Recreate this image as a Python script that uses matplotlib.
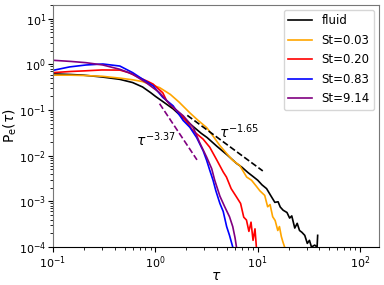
import matplotlib
matplotlib.use("Agg")
import matplotlib.pyplot as plt
import numpy as np

# ---- data ----
tau_fluid = [0.1, 0.15, 0.2, 0.3, 0.45, 0.6, 0.75, 0.9, 1.0, 1.2, 1.5, 1.85, 2.3, 2.8, 3.2, 4.0, 5.0, 6.2, 7.0, 8.0, 9.0, 10.0,
             11.0, 12.2, 13.5, 14.7, 15.8, 16.6, 17.7, 19.3, 20.5, 21.5, 23.0, 24.3, 25.6, 27.0, 28.8, 30.5, 32.0, 33.5, 36.0, 38.0, 38.5]
p_fluid = [0.62, 0.60, 0.58, 0.53, 0.47, 0.40, 0.32, 0.24, 0.20, 0.15, 0.105, 0.068, 0.045, 0.031, 0.025, 0.016, 0.0105, 0.0068, 0.0056, 0.0043, 0.0035, 0.0029,
           0.0023, 0.0019, 0.0013, 0.00095, 0.00098, 0.00075, 0.00064, 0.00057, 0.00043, 0.00048, 0.00026, 0.00033, 0.00023, 0.00021, 0.00018, 0.00012, 0.00014, 0.0001, 0.00011, 0.0001, 0.00018]

tau_st003 = [0.1, 0.15, 0.2, 0.3, 0.45, 0.6, 0.75, 0.9, 1.1, 1.4, 1.7, 2.17, 2.6, 3.18, 3.7, 4.27, 5.0, 5.7, 6.67, 7.8, 8.7, 9.6, 10.5, 11.7, 12.5, 13.2, 14.0, 14.8, 15.7, 16.3, 17.0, 17.6, 18.3]
p_st003 = [0.58, 0.58, 0.57, 0.55, 0.50, 0.46, 0.42, 0.36, 0.31, 0.22, 0.15, 0.087, 0.060, 0.041, 0.026, 0.0166, 0.011, 0.0079, 0.0061, 0.0034, 0.0029, 0.0022, 0.0017, 0.00135, 0.00076, 0.00085, 0.00046, 0.00038, 0.00023, 0.00028, 0.00017, 0.00013, 0.0001]

tau_st020 = [0.1, 0.15, 0.2, 0.3, 0.45, 0.55, 0.7, 0.85, 0.95, 1.18, 1.29, 1.55, 1.87, 2.34, 2.93, 3.4, 4.0, 4.6, 4.95, 5.5, 6.2, 6.8, 7.3, 7.76, 8.2, 8.6, 9.0, 9.4, 9.7]
p_st020 = [0.66, 0.70, 0.72, 0.755, 0.75, 0.66, 0.51, 0.42, 0.37, 0.24, 0.16, 0.105, 0.069, 0.035, 0.023, 0.0153, 0.0079, 0.0044, 0.0034, 0.0019, 0.00125, 0.0009, 0.00045, 0.00039, 0.00022, 0.00035, 0.00014, 0.00025, 0.0001]

tau_st083 = [0.1, 0.145, 0.21, 0.307, 0.45, 0.6, 0.755, 0.95, 1.18, 1.49, 1.87, 2.17, 2.53, 2.93, 3.17, 3.4, 3.66, 3.9, 4.27, 4.6, 4.97, 5.3, 5.7]
p_st083 = [0.74, 0.88, 0.97, 1.02, 0.92, 0.66, 0.47, 0.34, 0.19, 0.124, 0.059, 0.042, 0.025, 0.0128, 0.0079, 0.0048, 0.0029, 0.0017, 0.0009, 0.0006, 0.00028, 0.00018, 0.0001]

tau_st914 = [0.1, 0.15, 0.21, 0.307, 0.45, 0.6, 0.81, 1.1, 1.4, 1.87, 2.34, 2.7, 3.17, 3.55, 3.8, 4.27, 4.76, 5.3, 5.7, 6.0, 6.2]
p_st914 = [1.23, 1.16, 1.09, 0.97, 0.78, 0.61, 0.40, 0.24, 0.13, 0.075, 0.042, 0.0196, 0.0093, 0.0052, 0.0029, 0.0013, 0.00076, 0.00046, 0.00028, 0.00016, 0.0001]

labels = ["fluid", "St=0.03", "St=0.20", "St=0.83", "St=9.14"]
colors = ["black", "orange", "red", "blue", "purple"]

# power-law guide lines
fit1_exp = -1.65
fit1_coef = 0.25
fit1_range = [2.05, 11.2]
fit2_exp = -3.37
fit2_coef = 0.19
fit2_range = [1.1, 2.55]

fig = plt.figure(figsize=(3.84, 2.85), dpi=100)
ax = fig.add_axes([0.138, 0.1333, 0.849, 0.8492])

series = [(tau_fluid, p_fluid), (tau_st003, p_st003), (tau_st020, p_st020),
          (tau_st083, p_st083), (tau_st914, p_st914)]
for (t, p), lab, c in zip(series, labels, colors):
    ax.plot(t, p, color=c, lw=1.2, label=lab)

t1 = np.array(fit1_range)
ax.plot(t1, fit1_coef * t1 ** fit1_exp, color="black", ls="--", lw=1.2)
t2 = np.array(fit2_range)
ax.plot(t2, fit2_coef * t2 ** fit2_exp, color="purple", ls="--", lw=1.2)

ax.text(4.2, 0.024, r"$\tau^{-1.65}$", fontsize=10)
ax.text(0.65, 0.0165, r"$\tau^{-3.37}$", fontsize=10)

ax.set_xscale("log")
ax.set_yscale("log")
ax.set_xlim(0.1, 153)
ax.set_ylim(1e-4, 20)
ax.set_xlabel(r"$\tau$", fontsize=10, labelpad=-1)
ax.set_ylabel(r"P$_\mathrm{e}$($\tau$)", fontsize=10, labelpad=0)
ax.tick_params(labelsize=8, pad=1.5)
for s in ["left", "top", "right"]:
    ax.spines[s].set_color("#777777")
ax.legend(loc="upper right", fontsize=8.5, borderaxespad=0.4, labelspacing=0.55)

fig.savefig("out.png", dpi=100)
